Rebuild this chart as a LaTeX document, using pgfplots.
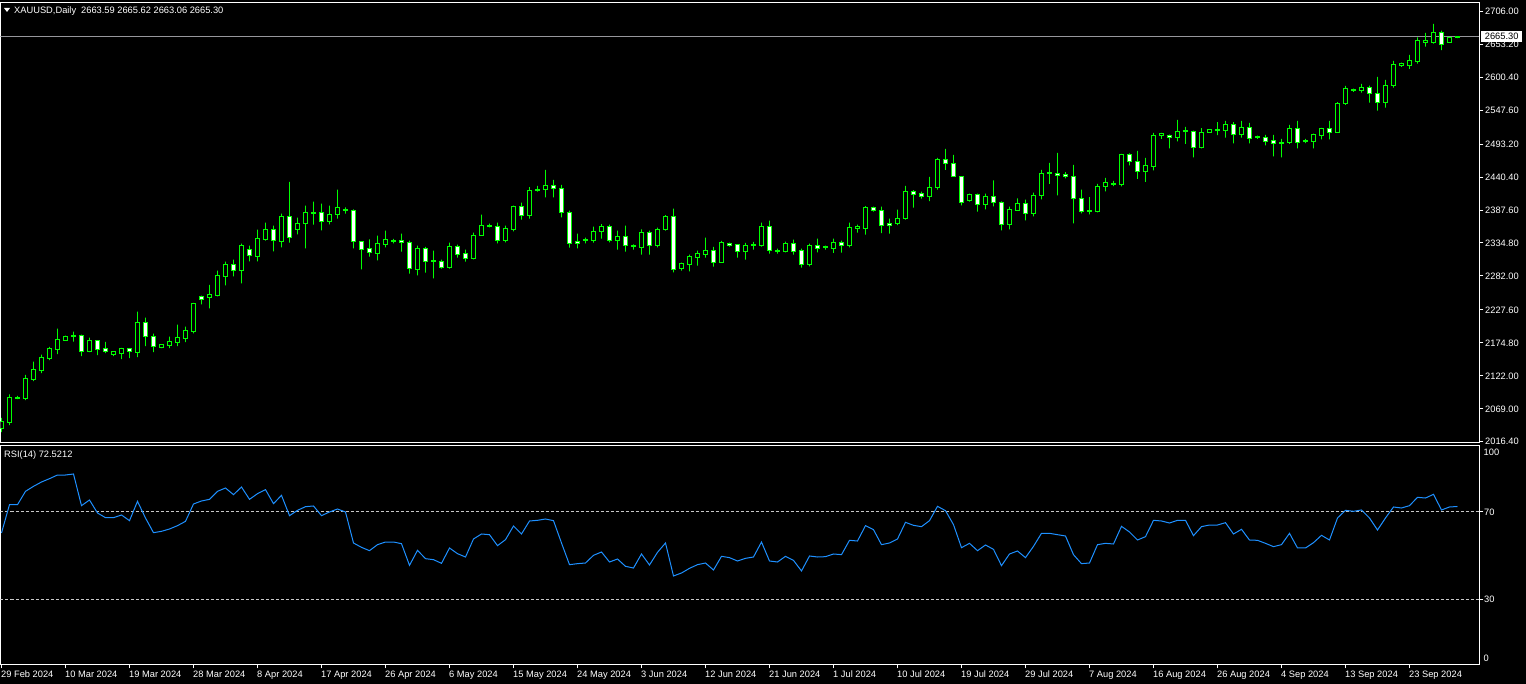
\documentclass[border=0pt]{standalone}
\usepackage{pgfplots}
\pgfplotsset{compat=1.18}
\usepackage{pgfplotstable}
\usepackage{fontspec}
\setmainfont{Liberation Sans}
\definecolor{mtlime}{RGB}{0,255,0}
\definecolor{rsiblue}{RGB}{30,144,255}
\definecolor{pricegray}{RGB}{150,150,155}
\definecolor{levelgray}{RGB}{200,200,200}

\pgfplotstableread{
x o h l c r
0 2038.2 2054.8 2031.9 2048.4 60.38
1 2047.9 2092.1 2043.1 2086.8 73.36
2 2085.2 2090.0 2084.7 2086.8 73.36
3 2086.3 2123.6 2083.1 2117.2 79.47
4 2116.7 2144.9 2113.5 2131.6 81.76
5 2131.1 2156.1 2126.3 2150.8 83.75
6 2150.3 2168.4 2147.1 2165.2 85.27
7 2164.7 2197.7 2156.7 2179.6 86.95
8 2179.1 2186.5 2178.5 2184.4 86.95
9 2186.5 2192.9 2176.9 2184.4 87.41
10 2186.5 2188.1 2153.5 2160.4 72.90
11 2160.4 2183.3 2159.9 2178.0 75.50
12 2178.0 2179.1 2155.1 2164.7 69.54
13 2165.2 2176.4 2158.3 2160.4 67.40
14 2156.7 2160.9 2153.5 2160.4 67.40
15 2158.3 2166.8 2148.7 2165.7 68.63
16 2165.2 2165.7 2150.3 2160.4 66.03
17 2159.9 2224.9 2151.9 2206.8 74.89
18 2206.8 2215.3 2169.4 2184.4 67.25
19 2184.4 2189.7 2159.9 2168.4 60.53
20 2166.8 2171.6 2166.3 2171.6 61.14
21 2171.1 2184.9 2166.3 2176.4 62.21
22 2175.8 2204.1 2169.4 2182.8 63.74
23 2182.2 2200.9 2175.8 2194.0 65.72
24 2193.4 2238.8 2190.2 2237.2 73.67
25 2248.9 2250.5 2236.6 2244.6 75.04
26 2247.8 2267.6 2230.2 2251.6 75.80
27 2251.0 2290.5 2249.4 2282.0 79.47
28 2281.4 2304.9 2267.0 2299.6 81.00
29 2299.6 2308.1 2281.4 2291.0 77.94
30 2291.0 2333.7 2270.2 2330.0 81.45
31 2323.6 2330.5 2305.4 2314.0 75.80
32 2313.4 2356.1 2305.4 2341.2 78.40
33 2340.6 2367.3 2338.5 2357.2 80.23
34 2357.2 2362.5 2321.4 2338.0 73.82
35 2337.4 2381.7 2327.8 2378.0 77.64
36 2378.0 2432.9 2335.3 2344.4 68.32
37 2356.6 2375.3 2348.6 2366.8 70.76
38 2366.8 2394.5 2326.2 2384.4 72.44
39 2384.4 2400.9 2364.1 2382.8 72.75
40 2384.4 2397.7 2355.0 2370.0 68.32
41 2369.4 2394.5 2364.6 2381.2 70.00
42 2381.2 2420.1 2373.7 2392.4 71.37
43 2387.6 2391.8 2381.7 2389.2 70.00
44 2387.6 2388.5 2326.2 2336.4 55.80
45 2336.4 2337.0 2292.6 2324.6 53.81
46 2325.2 2340.6 2312.9 2318.8 52.28
47 2318.2 2346.5 2307.0 2333.2 55.03
48 2332.6 2354.5 2327.8 2339.6 56.25
49 2339.0 2341.2 2334.2 2337.4 56.25
50 2338.5 2349.7 2320.9 2334.8 55.49
51 2335.3 2338.5 2285.7 2293.2 45.56
52 2292.6 2330.5 2283.0 2325.7 52.44
53 2325.7 2328.4 2287.3 2305.4 48.62
54 2306.0 2322.5 2278.2 2304.4 48.16
55 2304.4 2308.1 2293.7 2295.8 46.48
56 2295.8 2335.3 2293.7 2328.4 53.51
57 2328.4 2332.1 2311.3 2316.6 50.91
58 2317.2 2324.1 2304.9 2310.2 49.38
59 2309.7 2351.3 2308.6 2347.6 57.63
60 2347.0 2380.1 2346.5 2363.6 59.92
61 2362.0 2365.7 2359.8 2363.0 59.61
62 2362.0 2367.3 2334.2 2339.0 54.57
63 2338.5 2362.5 2335.8 2357.7 57.32
64 2356.1 2394.5 2353.4 2394.0 63.59
65 2394.0 2399.3 2372.1 2379.0 59.92
66 2379.0 2424.4 2373.7 2419.6 65.88
67 2419.0 2426.5 2416.9 2421.2 66.18
68 2420.6 2452.1 2407.8 2427.6 66.79
69 2427.6 2436.1 2407.8 2422.2 66.03
70 2422.8 2428.1 2375.8 2383.8 55.80
71 2384.4 2386.5 2327.3 2334.2 45.87
72 2336.4 2349.7 2326.2 2334.2 46.33
73 2338.0 2343.3 2334.2 2340.1 46.63
74 2339.0 2360.9 2335.3 2354.0 50.15
75 2353.4 2365.2 2341.7 2362.0 51.67
76 2362.0 2364.1 2335.8 2339.0 47.09
77 2339.0 2354.5 2324.1 2346.0 48.46
78 2346.0 2362.5 2320.9 2331.0 45.11
79 2330.5 2332.6 2324.1 2328.4 44.34
80 2327.8 2356.6 2316.1 2352.4 50.76
81 2352.4 2354.5 2316.1 2331.0 45.72
82 2330.5 2359.3 2327.8 2357.2 51.52
83 2356.6 2379.6 2354.5 2378.0 55.80
84 2378.0 2389.7 2287.8 2292.6 40.68
85 2293.7 2303.3 2290.5 2301.2 42.05
86 2300.6 2316.1 2289.4 2312.4 44.19
87 2311.8 2322.5 2298.5 2317.2 45.87
88 2316.1 2343.3 2311.3 2322.0 46.63
89 2322.0 2328.4 2296.9 2303.8 43.42
90 2303.8 2338.0 2303.3 2334.8 49.69
91 2333.2 2335.3 2328.9 2331.0 49.08
92 2331.6 2332.1 2311.3 2321.4 47.55
93 2321.4 2334.8 2308.1 2330.5 48.77
94 2330.5 2336.4 2324.1 2332.6 49.38
95 2330.5 2367.3 2328.9 2362.0 56.25
96 2362.0 2370.5 2317.7 2323.0 47.55
97 2323.0 2325.7 2317.7 2321.4 47.09
98 2321.4 2336.9 2319.8 2333.2 49.69
99 2333.2 2340.1 2316.1 2321.4 47.85
100 2322.0 2325.7 2295.3 2300.6 42.97
101 2300.6 2333.7 2297.4 2330.5 49.84
102 2330.0 2341.7 2319.8 2326.2 49.38
103 2326.8 2330.5 2324.1 2328.9 49.53
104 2326.2 2341.7 2318.8 2334.8 50.76
105 2334.8 2338.5 2319.3 2331.0 50.45
106 2331.0 2367.3 2327.8 2360.4 57.02
107 2358.2 2364.1 2351.3 2360.9 56.71
108 2358.8 2394.0 2348.1 2392.4 63.74
109 2391.3 2392.9 2384.9 2387.0 61.91
110 2387.6 2392.9 2350.8 2363.0 55.03
111 2366.8 2373.7 2349.7 2363.0 55.80
112 2366.2 2388.1 2363.6 2374.8 57.63
113 2374.2 2426.5 2372.1 2418.0 65.27
114 2418.0 2419.6 2391.3 2412.6 63.89
115 2413.7 2416.9 2405.7 2409.4 63.28
116 2409.4 2440.9 2402.0 2424.4 66.03
117 2423.8 2471.3 2420.1 2469.2 72.60
118 2469.2 2485.7 2452.1 2462.2 70.61
119 2462.8 2476.1 2441.0 2441.4 64.20
120 2441.4 2442.0 2395.0 2399.8 53.66
121 2402.5 2413.7 2400.9 2413.2 55.64
122 2413.2 2413.7 2384.9 2396.6 52.28
123 2396.6 2413.7 2388.6 2410.0 54.88
124 2410.0 2435.0 2393.4 2400.4 52.89
125 2400.4 2401.4 2355.0 2364.6 45.41
126 2364.6 2392.9 2356.6 2389.2 50.76
127 2387.0 2406.2 2386.5 2398.8 52.13
128 2398.8 2404.1 2371.0 2382.2 49.08
129 2382.2 2415.3 2377.4 2411.6 54.27
130 2411.0 2452.1 2404.6 2446.8 60.23
131 2446.2 2463.3 2429.7 2447.8 60.23
132 2446.8 2479.3 2411.0 2443.6 59.61
133 2445.2 2448.4 2438.2 2442.0 59.00
134 2442.0 2460.1 2366.2 2406.8 50.45
135 2406.8 2420.1 2382.2 2385.4 46.33
136 2385.4 2408.4 2380.6 2387.0 46.63
137 2385.4 2429.7 2383.8 2426.0 55.03
138 2425.4 2439.3 2417.4 2432.4 55.64
139 2429.7 2434.5 2426.0 2428.1 55.34
140 2428.6 2477.7 2425.4 2477.2 63.43
141 2477.2 2478.2 2459.0 2465.4 60.84
142 2466.0 2482.5 2437.7 2449.4 57.17
143 2449.4 2471.3 2432.9 2458.5 58.70
144 2458.0 2511.3 2451.0 2507.6 66.18
145 2507.6 2511.3 2501.7 2509.7 65.88
146 2507.6 2508.6 2486.2 2504.4 64.96
147 2504.4 2532.1 2497.4 2514.0 66.18
148 2514.5 2520.9 2493.7 2513.4 66.18
149 2514.0 2515.0 2471.8 2487.8 59.16
150 2487.8 2518.8 2486.2 2511.8 63.28
151 2511.8 2517.2 2511.3 2517.2 64.04
152 2517.2 2528.4 2507.6 2515.0 64.04
153 2515.0 2530.5 2503.8 2525.2 65.11
154 2525.2 2528.4 2494.2 2508.6 59.92
155 2508.6 2530.5 2503.8 2520.4 62.06
156 2520.4 2527.3 2494.2 2502.8 57.17
157 2503.3 2507.0 2501.7 2504.9 57.02
158 2504.4 2508.1 2491.0 2498.0 55.64
159 2498.5 2508.1 2473.4 2494.8 54.12
160 2494.8 2501.7 2471.8 2496.4 55.03
161 2495.3 2524.1 2493.7 2518.8 60.23
162 2518.8 2530.5 2486.2 2495.8 53.51
163 2499.0 2501.7 2494.8 2496.9 53.51
164 2497.4 2510.2 2486.2 2508.1 55.95
165 2507.6 2519.3 2500.6 2518.8 59.31
166 2518.8 2530.5 2500.6 2512.4 57.17
167 2511.8 2560.4 2511.3 2558.8 67.25
168 2558.2 2586.5 2556.1 2581.7 70.76
169 2580.1 2582.2 2576.9 2578.5 70.31
170 2579.0 2589.7 2575.8 2584.4 70.92
171 2584.4 2587.0 2559.8 2574.2 67.25
172 2574.8 2600.9 2547.0 2559.8 61.75
173 2559.8 2596.1 2551.8 2587.6 67.25
174 2587.0 2626.5 2583.8 2621.2 72.29
175 2619.0 2623.8 2616.9 2621.7 71.83
176 2619.0 2636.1 2613.7 2626.5 72.90
177 2625.4 2664.4 2622.2 2658.5 76.72
178 2656.4 2671.3 2649.4 2658.5 76.41
179 2655.8 2685.7 2654.2 2672.4 78.09
180 2672.4 2675.0 2643.6 2652.6 70.92
181 2656.4 2663.8 2655.8 2663.3 72.29
182 2663.59 2665.62 2663.06 2665.30 72.52
}\candles

\pgfplotsset{
  mtframe/.style={
    scale only axis, anchor=south west,
    xmin=-0.125, xmax=184.75,
    axis line style={draw=white, line width=1pt},
    tick align=outside, major tick length=4pt,
    tick style={draw=white, line width=1pt},
    every tick label/.append style={text=white, font=\fontsize{9.3}{11}\selectfont},
  },
  mtoverlay/.style={
    scale only axis, anchor=south west,
    at={(0.5pt,241.5pt)}, width=1479pt, height=440pt,
    xmin=-0.125, xmax=184.75, ymin=2015.2, ymax=2720.1,
    hide axis, ybar stacked,
  },
}

\begin{document}
\begin{tikzpicture}[font=\fontsize{9.3}{11}\selectfont]
\fill[black] (0pt,0pt) rectangle (1526pt,684pt);

% ---------- main price panel: frame, ticks, price line ----------
\begin{axis}[mtframe,
  at={(0.5pt,241.5pt)}, width=1479pt, height=440pt,
  ymin=2015.2, ymax=2720.1,
  xtick=\empty,
  ytick={2016.4,2069,2122,2174.8,2227.6,2282,2334.8,2387.6,2440.4,2493.2,2547.6,2600.4,2653.2,2706},
  yticklabels={2016.40,2069.00,2122.00,2174.80,2227.60,2282.00,2334.80,2387.60,2440.40,2493.20,2547.60,2600.40,2653.20,2706.00},
  ytick pos=right, yticklabel pos=right,
  yticklabel style={anchor=west, inner sep=0pt, xshift=1.5pt},
]
\addplot[pricegray, line width=1pt] coordinates {(-0.125,2665.3) (184.75,2665.3)};
\end{axis}

% ---------- wicks: low to high ----------
\begin{axis}[mtoverlay, bar width=0pt]
\addplot[draw=none, fill=none] table[x=x, y=l] {\candles};
\addplot[draw=mtlime, fill=none, line width=1pt] table[x=x, y expr={\thisrow{h}-\thisrow{l}}] {\candles};
\end{axis}

% ---------- candle bodies ----------
\begin{axis}[mtoverlay, bar width=4pt]
\addplot[draw=none, fill=none] table[x=x, y expr={min(\thisrow{o},\thisrow{c})}] {\candles};
\addplot[draw=mtlime, fill=black, line width=1pt] table[x=x, y expr={max(\thisrow{c}-\thisrow{o},0)}] {\candles};
\addplot[draw=mtlime, fill=white, line width=1pt] table[x=x, y expr={max(\thisrow{o}-\thisrow{c},0)}] {\candles};
\coordinate (pl) at (axis cs:184.75,2665.3);
\end{axis}

% ---------- RSI panel ----------
\begin{axis}[mtframe,
  at={(0.5pt,19.5pt)}, width=1479pt, height=219pt,
  ymin=0.13, ymax=100.47,
  xtick={0,8,...,176},
  xticklabels={29 Feb 2024,10 Mar 2024,19 Mar 2024,28 Mar 2024,8 Apr 2024,17 Apr 2024,26 Apr 2024,6 May 2024,15 May 2024,24 May 2024,3 Jun 2024,12 Jun 2024,21 Jun 2024,1 Jul 2024,10 Jul 2024,19 Jul 2024,29 Jul 2024,7 Aug 2024,16 Aug 2024,26 Aug 2024,4 Sep 2024,13 Sep 2024,23 Sep 2024},
  xtick pos=left, xticklabel pos=left,
  xticklabel style={anchor=north west, inner sep=0pt, xshift=-0.5pt, yshift=-2pt},
  ytick={30,70}, yticklabels={30,70},
  ytick pos=right, yticklabel pos=right,
  yticklabel style={anchor=west, inner sep=0pt, xshift=0.5pt},
]
\addplot[levelgray, line width=1pt, dash pattern=on 3pt off 2pt] coordinates {(-0.125,70) (184.75,70)};
\addplot[levelgray, line width=1pt, dash pattern=on 3pt off 2pt] coordinates {(-0.125,30) (184.75,30)};
\addplot[rsiblue, line width=1pt] table[x=x, y=r] {\candles};
\coordinate (rsitr) at (rel axis cs:1,1);
\coordinate (rsibr) at (rel axis cs:1,0);
\end{axis}

% ---------- texts ----------
\node[white, anchor=west, inner sep=0pt] at ([xshift=4pt, yshift=-7.2pt]rsitr) {100};
\node[white, anchor=west, inner sep=0pt] at ([xshift=4pt, yshift=5.8pt]rsibr) {0};
\node[fill=white, text=black, anchor=west, inner sep=0pt, minimum height=11pt, minimum width=41pt] at ([xshift=1.5pt]pl) {2665.30};
\fill[white] (4pt,676pt) -- (10pt,676pt) -- (7pt,672pt) -- cycle;
\node[white, anchor=base west, inner sep=0pt] at (14pt,670pt) {XAUUSD,Daily\hspace{5pt}2663.59 2665.62 2663.06 2665.30};
\node[white, anchor=base west, inner sep=0pt] at (4pt,226pt) {RSI(14) 72.5212};

\pgfresetboundingbox
\path[use as bounding box] (0pt,0pt) rectangle (1526pt,684pt);
\end{tikzpicture}
\end{document}
